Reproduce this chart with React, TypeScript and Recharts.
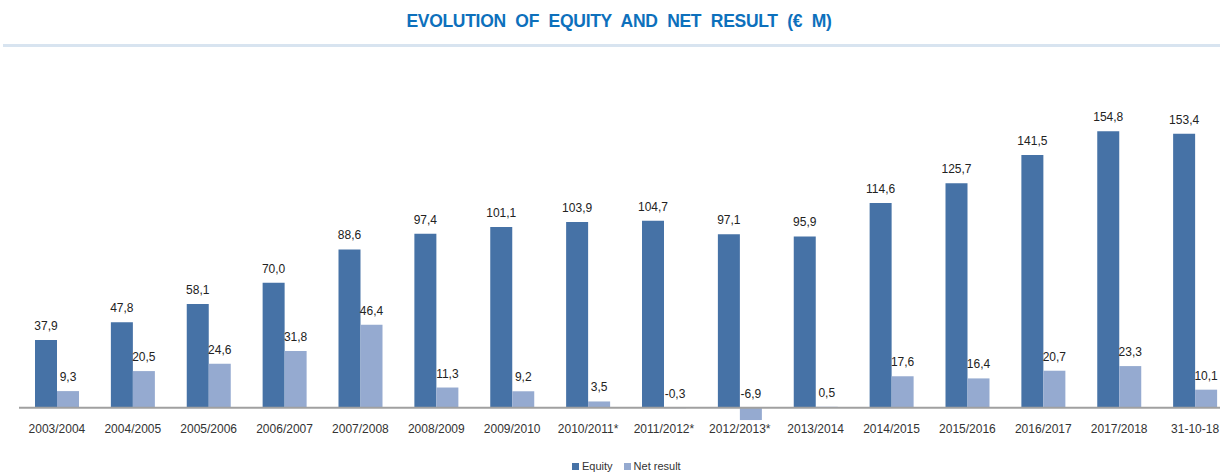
import React from 'react';
import { BarChart, Bar, XAxis, YAxis, ReferenceLine, LabelList } from 'recharts';

const periods = [
  '2003/2004', '2004/2005', '2005/2006', '2006/2007', '2007/2008', '2008/2009',
  '2009/2010', '2010/2011*', '2011/2012*', '2012/2013*', '2013/2014', '2014/2015',
  '2015/2016', '2016/2017', '2017/2018', '31-10-18',
];
const equity = [37.9, 47.8, 58.1, 70.0, 88.6, 97.4, 101.1, 103.9, 104.7, 97.1, 95.9, 114.6, 125.7, 141.5, 154.8, 153.4];
const netResult = [9.3, 20.5, 24.6, 31.8, 46.4, 11.3, 9.2, 3.5, -0.3, -6.9, 0.5, 17.6, 16.4, 20.7, 23.3, 10.1];

const EQUITY_COLOR = '#4672a6';
const NET_COLOR = '#95aad0';
const FONT = '"Liberation Sans", Arial, sans-serif';

const data = periods.map((p, i) => ({ period: p, equity: equity[i], net: netResult[i] }));

const fmt = (v: number) => v.toFixed(1).replace('.', ',');

// label always sits above the upper edge of the bar (zero line for negatives)
const ValueLabel = (props: any) => {
  const { x, y, width, height, value } = props;
  const top = Math.min(y, y + height);
  return (
    <text x={x + width / 2} y={top - 10} textAnchor="middle" fontSize={12} fill="#222" fontFamily={FONT}>
      {fmt(value)}
    </text>
  );
};

const App: React.FC = () => {
  return (
    <div style={{ position: 'absolute', left: 0, top: 0, width: 1220, height: 476, overflow: 'hidden', background: '#fff', fontFamily: FONT }}>
      <div
        style={{
          position: 'absolute', left: 0, top: 11, width: 1238, textAlign: 'center',
          color: '#0d70bc', fontWeight: 'bold', fontSize: 17.5, wordSpacing: 5, letterSpacing: -0.3,
        }}
      >
        EVOLUTION OF EQUITY AND NET RESULT (€ M)
      </div>
      <div style={{ position: 'absolute', left: 3, top: 44, width: 1217, height: 3, background: '#d8e4f0' }} />
      <div style={{ position: 'absolute', left: 0, top: 0 }}>
        <BarChart
          width={1240}
          height={476}
          data={data}
          margin={{ top: 104, right: 7, left: 19, bottom: 24 }}
          barGap={0}
        >
          <XAxis
            dataKey="period"
            axisLine={false}
            tickLine={false}
            tickSize={0}
            tickMargin={2}
            height={30}
            interval={0}
            tick={{ fontSize: 12, fill: '#333', fontFamily: FONT }}
          />
          <YAxis hide domain={[-8, 170]} />
          <ReferenceLine y={0} stroke="#a0a0a0" strokeWidth={2} ifOverflow="extendDomain" />
          <Bar dataKey="equity" name="Equity" fill={EQUITY_COLOR} barSize={22} isAnimationActive={false}>
            <LabelList dataKey="equity" content={ValueLabel} />
          </Bar>
          <Bar dataKey="net" name="Net result" fill={NET_COLOR} barSize={22} isAnimationActive={false}>
            <LabelList dataKey="net" content={ValueLabel} />
          </Bar>
        </BarChart>
      </div>
      <div style={{ position: 'absolute', top: 460, left: 572, fontSize: 11, color: '#333', display: 'flex', alignItems: 'center' }}>
        <span style={{ display: 'inline-block', width: 7, height: 7, background: EQUITY_COLOR, marginRight: 3 }} />
        <span style={{ marginRight: 11 }}>Equity</span>
        <span style={{ display: 'inline-block', width: 7, height: 7, background: NET_COLOR, marginRight: 3 }} />
        <span>Net result</span>
      </div>
    </div>
  );
};

export default App;
